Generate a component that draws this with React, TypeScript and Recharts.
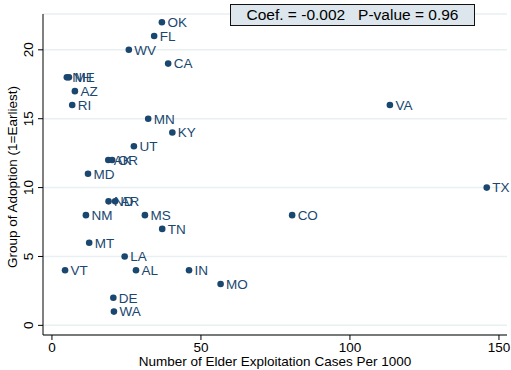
import React from 'react';
import { ScatterChart, Scatter, XAxis, YAxis, CartesianGrid } from 'recharts';

// state codes, elder exploitation cases per 1000, adoption group
const STATES = ['OK', 'FL', 'WV', 'CA', 'NH', 'ME', 'AZ', 'RI', 'VA', 'MN', 'KY', 'UT', 'AK', 'OR', 'MD', 'TX', 'ND', 'AR', 'NM', 'MS', 'CO', 'TN', 'MT', 'LA', 'VT', 'AL', 'IN', 'MO', 'DE', 'WA'];
const CASES = [36.9, 34.3, 25.8, 39.0, 5.0, 5.7, 7.7, 6.8, 113.4, 32.3, 40.4, 27.5, 18.9, 20.2, 12.1, 145.9, 19.0, 21.2, 11.4, 31.2, 80.6, 37.0, 12.5, 24.4, 4.4, 28.2, 46.0, 56.6, 20.6, 20.8];
const GROUP = [22, 21, 20, 19, 18, 18, 17, 16, 16, 15, 14, 13, 12, 12, 11, 10, 9, 9, 8, 8, 8, 7, 6, 5, 4, 4, 4, 3, 2, 1];

const X_TICKS = [0, 50, 100, 150];
const Y_TICKS = [0, 5, 10, 15, 20];

const NAVY = '#1a476f';
const FONT = '"Liberation Sans", Arial, Helvetica, sans-serif';

const data = STATES.map((s, i) => ({ state: s, x: CASES[i], y: GROUP[i] }));

const Dot = (props: any) => {
    const { cx, cy, payload } = props;
    return (
        <g>
            <circle cx={cx} cy={cy} r={3.3} fill={NAVY} />
            <text x={cx + 5.5} y={cy} dy="0.36em" fontSize={13.5} fill={NAVY} fontFamily={FONT}>{payload.state}</text>
        </g>
    );
};

const XTick = (props: any) => {
    const { x, payload } = props;
    return <text x={x} y={352} textAnchor="middle" fontSize={13.5} fill="#000" fontFamily={FONT}>{payload.value}</text>;
};

const YTick = (props: any) => {
    const { y, payload } = props;
    return (
        <text x={33} y={y} transform={`rotate(-90, 33, ${y})`} textAnchor="middle" fontSize={13.5} fill="#000" fontFamily={FONT}>
            {payload.value}
        </text>
    );
};

export default function App() {
    return (
        <div style={{ position: 'absolute', left: 0, top: 0, width: 511, height: 370, background: '#fff' }}>
            <ScatterChart width={511} height={370} margin={{ top: 14, right: 4, bottom: 0, left: 0 }} style={{ overflow: 'visible' }}>
                <CartesianGrid vertical={false} stroke="#e8f0f2" strokeWidth={1.5} />
                <XAxis
                    type="number"
                    dataKey="x"
                    domain={[-3, 152.7]}
                    ticks={X_TICKS}
                    height={35}
                    axisLine={{ stroke: '#000' }}
                    tickLine={{ stroke: '#000' }}
                    tickSize={5}
                    tick={<XTick />}
                    label={{
                        content: () => (
                            <text x={275} y={366} textAnchor="middle" fontSize={13.5} fill="#000" fontFamily={FONT}>
                                Number of Elder Exploitation Cases Per 1000
                            </text>
                        ),
                    }}
                />
                <YAxis
                    type="number"
                    dataKey="y"
                    domain={[-0.7, 22.6]}
                    ticks={Y_TICKS}
                    width={43}
                    axisLine={{ stroke: '#000' }}
                    tickLine={{ stroke: '#000' }}
                    tickSize={5}
                    tick={<YTick />}
                    label={{
                        content: () => (
                            <text x={17} y={177} transform="rotate(-90, 17, 177)" textAnchor="middle" fontSize={13.5} fill="#000" fontFamily={FONT}>
                                Group of Adoption (1=Earliest)
                            </text>
                        ),
                    }}
                />
                <Scatter data={data} shape={<Dot />} isAnimationActive={false} />
            </ScatterChart>
            <div
                style={{
                    position: 'absolute',
                    left: 230,
                    top: 4,
                    width: 243,
                    height: 20,
                    border: '1.5px solid #111',
                    background: '#dce6ec',
                    fontFamily: FONT,
                    fontSize: 15.5,
                    lineHeight: '20px',
                    textAlign: 'center',
                    whiteSpace: 'pre',
                    color: '#000',
                }}
            >
                {'Coef. = -0.002   P-value = 0.96'}
            </div>
        </div>
    );
}
